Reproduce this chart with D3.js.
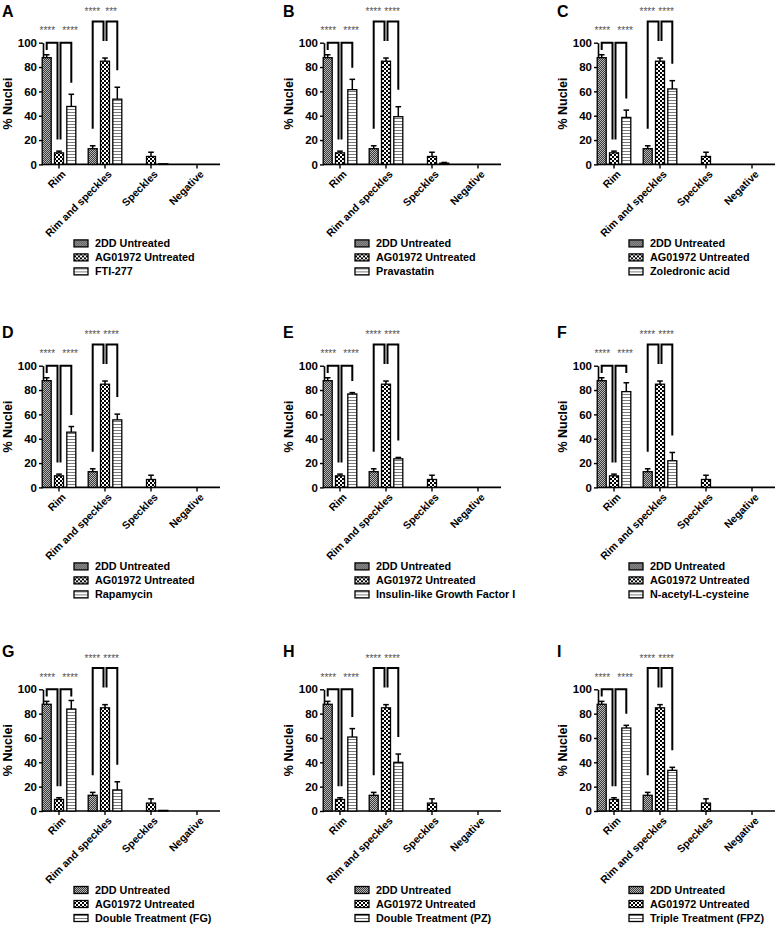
<!DOCTYPE html>
<html><head><meta charset="utf-8">
<script src="https://cdn.jsdelivr.net/npm/d3@7"></script>
<style>
body{margin:0;background:#fff;}
text{font-family:"Liberation Sans",Arial,Helvetica,sans-serif;}
</style></head>
<body><svg id="chart" width="784" height="926"></svg>
<script>
// ---------- DATA ----------
const categories = ["Rim", "Rim and speckles", "Speckles", "Negative"];
const seriesUntreated = ["2DD Untreated", "AG01972 Untreated"];
const untreated2DD = [87.7, 12.9, 0, 0];
const untreated2DDErr = [2.4, 2.4, 0, 0];
const ag01972 = [9.5, 84.8, 6.5, 0];
const ag01972Err = [1.4, 2.6, 3.5, 0];
const panelLetters = ["A","B","C","D","E","F","G","H","I"];
const treatmentNames = ["FTI-277","Pravastatin","Zoledronic acid","Rapamycin",
  "Insulin-like Growth Factor I","N-acetyl-L-cysteine",
  "Double Treatment (FG)","Double Treatment (PZ)","Triple Treatment (FPZ)"];
const treatmentValues = [
  [47.6, 53.6, 0.5, 0],
  [61.4, 39.2, 1.0, 0],
  [38.6, 62.0, 0, 0],
  [45.4, 55.5, 0, 0],
  [76.8, 23.5, 0, 0],
  [78.7, 21.9, 0, 0],
  [83.8, 17.3, 0.5, 0],
  [60.8, 40.0, 0, 0],
  [68.2, 33.4, 0, 0]
];
const treatmentErrors = [
  [10.0, 9.8, 0, 0],
  [8.5, 8.2, 0.6, 0],
  [6.0, 6.8, 0, 0],
  [4.6, 4.7, 0, 0],
  [1.1, 1.1, 0, 0],
  [7.3, 6.8, 0, 0],
  [7.0, 6.7, 0, 0],
  [6.9, 6.8, 0, 0],
  [2.2, 2.5, 0, 0]
];
const rimStars = ["****","****","****","****","****","****","****","****","****"];
const rimSpecklesStars = [["****","***"],["****","****"],["****","****"],["****","****"],
  ["****","****"],["****","****"],["****","****"],["****","****"],["****","****"]];
const yTicks = [0, 20, 40, 60, 80, 100];

// ---------- LAYOUT ----------
const svg = d3.select("#chart");
const colX = [43, 324, 598];
const rowY100 = [42.7, 365.7, 689.3];
const labelBase = [16.7, 338.3, 657.3];
const plotH = 121.7;

const defs = svg.append("defs");
const p1 = defs.append("pattern").attr("id","p1").attr("patternUnits","userSpaceOnUse").attr("width",2).attr("height",2);
p1.append("rect").attr("width",2).attr("height",2).attr("fill","#3a3a3a");
p1.append("rect").attr("width",1).attr("height",1).attr("fill","#b8b8b8");
p1.append("rect").attr("x",1).attr("y",1).attr("width",1).attr("height",1).attr("fill","#b8b8b8");
const p2 = defs.append("pattern").attr("id","p2").attr("patternUnits","userSpaceOnUse").attr("width",4).attr("height",4);
p2.append("rect").attr("width",4).attr("height",4).attr("fill","#fff");
p2.append("rect").attr("width",2).attr("height",2).attr("fill","#000");
p2.append("rect").attr("x",2).attr("y",2).attr("width",2).attr("height",2).attr("fill","#000");
const p3 = defs.append("pattern").attr("id","p3").attr("patternUnits","userSpaceOnUse").attr("width",4).attr("height",3);
p3.append("rect").attr("width",4).attr("height",3).attr("fill","#fff");
p3.append("rect").attr("y",1).attr("width",4).attr("height",1).attr("fill","#7a7a7a");
const fills = ["url(#p1)","url(#p2)","url(#p3)"];

panelLetters.forEach((letter, pi) => {
  const col = pi % 3, row = Math.floor(pi / 3);
  const ax = colX[col];
  const y100 = rowY100[row];
  const y0 = y100 + plotH;
  const g = svg.append("g");

  const y = d3.scaleLinear().domain([0, 100]).range([y0, y100]);
  const x = d3.scaleBand().domain(categories).range([ax - 7, ax + 177]).paddingInner(0).paddingOuter(0);
  const seriesNames = [seriesUntreated[0], seriesUntreated[1], treatmentNames[pi]];
  const xs = d3.scalePoint().domain(seriesNames).range([-12.3, 12.3]);
  const values = [untreated2DD, ag01972, treatmentValues[pi]];
  const errs = [untreated2DDErr, ag01972Err, treatmentErrors[pi]];

  g.append("text").attr("x", ax - 41).attr("y", labelBase[row])
    .attr("font-size", 16).attr("font-weight", "bold").text(letter);

  const yAxis = g.append("g").attr("transform", `translate(${ax},0)`)
    .call(d3.axisLeft(y).tickValues(yTicks).tickSize(4).tickSizeOuter(0).tickPadding(2));
  yAxis.select(".domain").attr("stroke-width", 1.6);
  yAxis.selectAll(".tick line").attr("stroke-width", 1.4);
  yAxis.selectAll(".tick text").attr("font-size", 11.5).attr("font-weight", "bold")
    .attr("font-family", '"Liberation Sans",Arial,sans-serif').attr("fill", "#000");

  g.append("text").attr("transform", `translate(${ax - 35},${(y0 + y100) / 2}) rotate(-90)`)
    .attr("text-anchor", "middle").attr("dy", "0.35em")
    .attr("font-size", 12.5).attr("font-weight", "bold").text("% Nuclei");

  const xAxis = g.append("g").attr("transform", `translate(0,${y0})`)
    .call(d3.axisBottom(x).tickSize(4).tickSizeOuter(0).tickPadding(3));
  xAxis.select(".domain").remove();
  xAxis.selectAll(".tick line").attr("stroke-width", 1.4);
  g.append("line").attr("x1", ax).attr("x2", x.range()[1]).attr("y1", y0).attr("y2", y0)
    .attr("stroke", "#000").attr("stroke-width", 1.6);
  xAxis.selectAll(".tick text").attr("font-size", 10.5).attr("font-weight", "bold")
    .attr("font-family", '"Liberation Sans",Arial,sans-serif').attr("fill", "#000")
    .attr("text-anchor", "end")
    .attr("transform", "translate(-2,1) rotate(-45)")
    .attr("dy", "0.6em");

  const barW = 9;
  const cx = (ci, si) => x(categories[ci]) + x.bandwidth() / 2 + xs(seriesNames[si]);
  values.forEach((vals, si) => {
    vals.forEach((v, ci) => {
      if (v <= 0) return;
      const c = cx(ci, si);
      const e = errs[si][ci];
      if (e > 0) {
        g.append("line").attr("x1", c).attr("x2", c).attr("y1", y(v)).attr("y2", y(v + e))
          .attr("stroke", "#000").attr("stroke-width", 1.5);
        g.append("line").attr("x1", c - 2.8).attr("x2", c + 2.8).attr("y1", y(v + e)).attr("y2", y(v + e))
          .attr("stroke", "#000").attr("stroke-width", 1.5);
      }
      g.append("rect").attr("x", c - barW / 2).attr("width", barW)
        .attr("y", y(v)).attr("height", Math.max(0.6, y0 - y(v)))
        .attr("fill", fills[si]).attr("stroke", "#000").attr("stroke-width", 1.3);
    });
  });

  const errTop = (si, ci) => values[si][ci] + errs[si][ci];
  const bracketSets = [
    {ci: 0, level: 100, off: 9.5, stars: [rimStars[pi], rimStars[pi]], starDx: [-5.5, 5], starLift: 8.5},
    {ci: 1, level: 117.5, off: 14, stars: rimSpecklesStars[pi], starDx: [-6.5, 0], starLift: 6.5}
  ];
  bracketSets.forEach(b => {
    const leg = si => y(Math.min(errTop(si, b.ci) + b.off, b.level - 6));
    const pairs = [[0, 1, 0, -1.5], [1, 2, 1.5, 0]];
    pairs.forEach(([a, bb, da, db], k) => {
      const xa = cx(b.ci, a) + da, xb = cx(b.ci, bb) + db;
      const path = d3.path();
      path.moveTo(xa, leg(a));
      path.lineTo(xa, y(b.level));
      path.lineTo(xb, y(b.level));
      path.lineTo(xb, leg(bb));
      g.append("path").attr("d", path.toString()).attr("fill", "none")
        .attr("stroke", "#000").attr("stroke-width", 2);
      g.append("text").attr("x", (cx(b.ci, a) + cx(b.ci, bb)) / 2 + b.starDx[k])
        .attr("y", y(b.level) - b.starLift).attr("text-anchor", "middle")
        .attr("font-size", 10).attr("fill", "#555").text(b.stars[k]);
    });
  });

  const lg = g.append("g").attr("transform", `translate(${ax + 31},${y0 + 79})`);
  seriesNames.forEach((name, si) => {
    lg.append("rect").attr("x", 0).attr("y", si * 14 - 3.5).attr("width", 14).attr("height", 7)
      .attr("fill", fills[si]).attr("stroke", "#000").attr("stroke-width", 1.3);
    lg.append("text").attr("x", 21).attr("y", si * 14).attr("dy", "0.36em")
      .attr("font-size", 10.8).attr("font-weight", "bold").text(name);
  });
});
</script></body></html>
